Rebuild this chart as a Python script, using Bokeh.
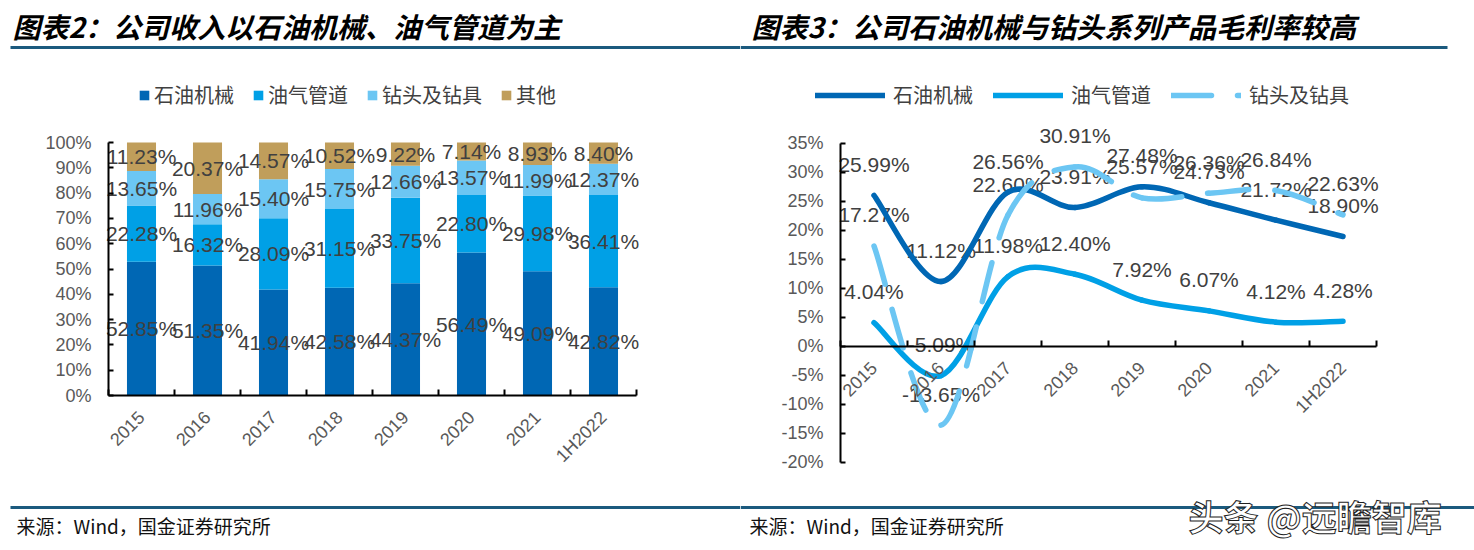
import math
from bokeh.plotting import figure
from bokeh.models import (FixedTicker, Legend, LegendItem, Label, BoxAnnotation,
                          ColumnDataSource, Range1d)
from bokeh.layouts import row
from bokeh.embed import file_html
from bokeh.resources import INLINE
from bokeh.core.properties import value

# ---------------- data ----------------
years = ["2015", "2016", "2017", "2018", "2019", "2020", "2021", "1H2022"]

# revenue mix (%)
rev_machinery = [52.85, 51.35, 41.94, 42.58, 44.37, 56.49, 49.09, 42.82]
rev_pipe = [22.28, 16.32, 28.09, 31.15, 33.75, 22.80, 29.98, 36.41]
rev_drill = [13.65, 11.96, 15.40, 15.75, 12.66, 13.57, 11.99, 12.37]
rev_other = [11.23, 20.37, 14.57, 10.52, 9.22, 7.14, 8.93, 8.40]

# gross margin (%)
gm_machinery = [25.99, 11.12, 26.56, 23.91, 27.48, 24.73, 21.72, 18.90]
gm_pipe = [4.04, -5.09, 11.98, 12.40, 7.92, 6.07, 4.12, 4.28]
gm_drill = [17.27, -13.65, 22.60, 30.91, 25.57, 26.36, 26.84, 22.63]

series_names = ["石油机械", "油气管道", "钻头及钻具", "其他"]
left_ticks = [0, 10, 20, 30, 40, 50, 60, 70, 80, 90, 100]
right_ticks = [-20, -15, -10, -5, 0, 5, 10, 15, 20, 25, 30, 35]

title_left = "图表2：公司收入以石油机械、油气管道为主"
title_right = "图表3：公司石油机械与钻头系列产品毛利率较高"
source_text = "来源：Wind，国金证券研究所"
watermark = "头条 @远瞻智库"

# ---------------- styles / layout (pixels) ----------------
C_DARK = "#0067B4"
C_MID = "#00A0E6"
C_LIGHT = "#6CC6F3"
C_TAN = "#C09E5B"
RULE = "#1B5A7E"
LABEL_FONT = "Liberation Sans"
CJK = "Noto Sans CJK SC"
H = 550
W_L, W_R = 740, 734

n = len(years)
centers = [i + 0.5 for i in range(n)]
bounds = list(range(n + 1))


def px_range(p0, v0, p1, v1, lo, hi):
    """data range so that value v0 sits at pixel p0 and v1 at pixel p1 over [lo, hi]"""
    k = (v1 - v0) / (p1 - p0)
    return Range1d(v0 + (lo - p0) * k, v0 + (hi - p0) * k)


def style_axis(ax):
    ax.axis_line_color = "black"
    ax.axis_line_width = 2
    ax.major_tick_line_color = "black"
    ax.major_tick_line_width = 2
    ax.minor_tick_line_color = "black"
    ax.minor_tick_line_width = 2
    ax.major_label_text_font = LABEL_FONT
    ax.major_label_text_font_size = "18px"
    ax.major_label_text_color = "#595959"


def setup_axes(p, yticks, ybounds):
    yax = p.yaxis[0]
    style_axis(yax)
    yax.fixed_location = 0
    yax.bounds = ybounds
    yax.ticker = FixedTicker(ticks=yticks)
    yax.major_label_overrides = {t: f"{t}%" for t in yticks}
    yax.major_tick_in = 5
    yax.major_tick_out = 0
    yax.minor_tick_in = 0
    yax.minor_tick_out = 0
    yax.major_label_standoff = 17

    xax = p.xaxis[0]
    style_axis(xax)
    xax.fixed_location = 0
    xax.bounds = (0, n)
    xax.ticker = FixedTicker(ticks=centers, minor_ticks=bounds)
    xax.major_label_overrides = {c: y for c, y in zip(centers, years)}
    xax.major_tick_in = 0
    xax.major_tick_out = 0
    xax.minor_tick_in = 6
    xax.minor_tick_out = 0
    xax.major_label_orientation = math.pi / 4
    xax.major_label_standoff = 19


def decorate(p, fig_x, title, rule_l, rule_r_top, rule_r_bot, title_x, src_x):
    p.add_layout(Label(x=title_x - fig_x, y=H - 25, x_units="screen", y_units="screen",
                       text=title, text_font=CJK, text_font_size="28px",
                       text_font_style="bold italic", text_color="#000000",
                       text_baseline="middle", text_align="left"))
    p.add_layout(BoxAnnotation(left=rule_l - fig_x, right=rule_r_top - fig_x,
                               bottom=H - 48.5, top=H - 45.5,
                               left_units="screen", right_units="screen",
                               top_units="screen", bottom_units="screen",
                               fill_color=RULE, fill_alpha=1, line_color=None))
    p.add_layout(BoxAnnotation(left=rule_l - fig_x, right=rule_r_bot - fig_x,
                               bottom=H - 508.5, top=H - 505.5,
                               left_units="screen", right_units="screen",
                               top_units="screen", bottom_units="screen",
                               fill_color=RULE, fill_alpha=1, line_color=None))
    p.add_layout(Label(x=src_x - fig_x, y=H - 525, x_units="screen", y_units="screen",
                       text=source_text, text_font=CJK, text_font_size="19px",
                       text_color="#111111", text_baseline="middle", text_align="left"))


# ================= LEFT: stacked bars =================
# x: 0 -> px 108, 8 -> px 636 ; y: 0 -> px 395, 100 -> px 142
left = figure(width=W_L, height=H,
              x_range=px_range(108, 0, 636, n, 0, W_L),
              y_range=px_range(395, 0, 142, 100, H, 0),
              output_backend="svg", toolbar_location=None,
              min_border=0)
left.outline_line_color = None
left.grid.visible = False

src = ColumnDataSource(dict(x=centers, m=rev_machinery, p=rev_pipe, d=rev_drill, o=rev_other))
rs = left.vbar_stack(["m", "p", "d", "o"], x="x", width=0.44, source=src,
                     color=[C_DARK, C_MID, C_LIGHT, C_TAN], line_color=None)

lx, ly, lt = [], [], []
for i in range(n):
    base = 0.0
    for vals in (rev_machinery, rev_pipe, rev_drill, rev_other):
        v = vals[i]
        lx.append(centers[i])
        ly.append(base + v / 2)
        lt.append(f"{v:.2f}%")
        base += v
left.text(x=lx, y=ly, text=lt, text_font=value(LABEL_FONT), text_font_size="21px",
          text_color="#404040", text_align="center", text_baseline="middle")

setup_axes(left, left_ticks, (0, 100))

leg_l = Legend(items=[LegendItem(label=nm, renderers=[r]) for nm, r in zip(series_names, rs)],
               orientation="horizontal", location=(138, H - 97 - 12),
               glyph_width=12, glyph_height=12, label_standoff=4, spacing=18,
               label_height=24, padding=0, margin=0, border_line_color=None,
               background_fill_alpha=0,
               label_text_font=CJK, label_text_font_size="20px", label_text_color="#404040")
left.add_layout(leg_l)

decorate(left, 0, title_left, 10, 740, 740, 12, 16)

# ================= RIGHT: smoothed lines =================
# x: 0 -> px 840, 8 -> px 1376 ; y: 35 -> px 142.7, -20 -> px 461.5
RX0 = 740
right = figure(width=W_R, height=H,
               x_range=px_range(840 - RX0, 0, 1376 - RX0, n, 0, W_R),
               y_range=px_range(461.5, -20, 142.7, 35, H, 0),
               output_backend="svg", toolbar_location=None,
               min_border=0)
right.outline_line_color = None
right.grid.visible = False


def bezier_data(xs, ys):
    pts = list(zip(xs, ys))
    m = len(pts)
    d = dict(x0=[], y0=[], x1=[], y1=[], cx0=[], cy0=[], cx1=[], cy1=[])
    for i in range(m - 1):
        pm = pts[i - 1] if i > 0 else pts[i]
        p0, p1 = pts[i], pts[i + 1]
        p2 = pts[i + 2] if i + 2 < m else pts[i + 1]
        d["x0"].append(p0[0]); d["y0"].append(p0[1])
        d["x1"].append(p1[0]); d["y1"].append(p1[1])
        d["cx0"].append(p0[0] + (p1[0] - pm[0]) / 6)
        d["cy0"].append(p0[1] + (p1[1] - pm[1]) / 6)
        d["cx1"].append(p1[0] - (p2[0] - p0[0]) / 6)
        d["cy1"].append(p1[1] - (p2[1] - p0[1]) / 6)
    return ColumnDataSource(d)


for vals in (gm_machinery, gm_pipe, gm_drill):
    right.text(x=centers, y=vals, text=[f"{v:.2f}%" for v in vals],
               text_font=value(LABEL_FONT), text_font_size="21px", text_color="#404040",
               text_align="center", text_baseline="middle", y_offset=-31)

bz = dict(x0="x0", y0="y0", x1="x1", y1="y1", cx0="cx0", cy0="cy0", cx1="cx1", cy1="cy1")
r_m = right.bezier(**bz, source=bezier_data(centers, gm_machinery),
                   line_color=C_DARK, line_width=5.5, line_cap="round")
r_p = right.bezier(**bz, source=bezier_data(centers, gm_pipe),
                   line_color=C_MID, line_width=5.5, line_cap="round")
r_d = right.bezier(**bz, source=bezier_data(centers, gm_drill),
                   line_color=C_LIGHT, line_width=5.5, line_cap="round", line_dash="40 26")

setup_axes(right, right_ticks, (-20, 35))

leg_r = Legend(items=[LegendItem(label=nm, renderers=[r]) for nm, r in
                      zip(series_names[:3], [r_m, r_p, r_d])],
               orientation="horizontal", location=(815 - RX0, H - 97 - 12),
               glyph_width=70, glyph_height=20, label_standoff=8, spacing=20,
               label_height=24, padding=0, margin=0, border_line_color=None,
               background_fill_alpha=0,
               label_text_font=CJK, label_text_font_size="20px", label_text_color="#404040")
right.add_layout(leg_r)

decorate(right, RX0, title_right, 740, 1447, 1474, 751, 749)

right.add_layout(Label(x=1188 - RX0, y=H - 515, x_units="screen", y_units="screen",
                       text=watermark, text_font=CJK, text_font_size="35px",
                       text_font_style="bold",
                       text_color="white", text_outline_color="#1e1e1e",
                       text_baseline="middle", text_align="left"))

layout = row(left, right)
open("out.html", "w").write(file_html(layout, INLINE))
